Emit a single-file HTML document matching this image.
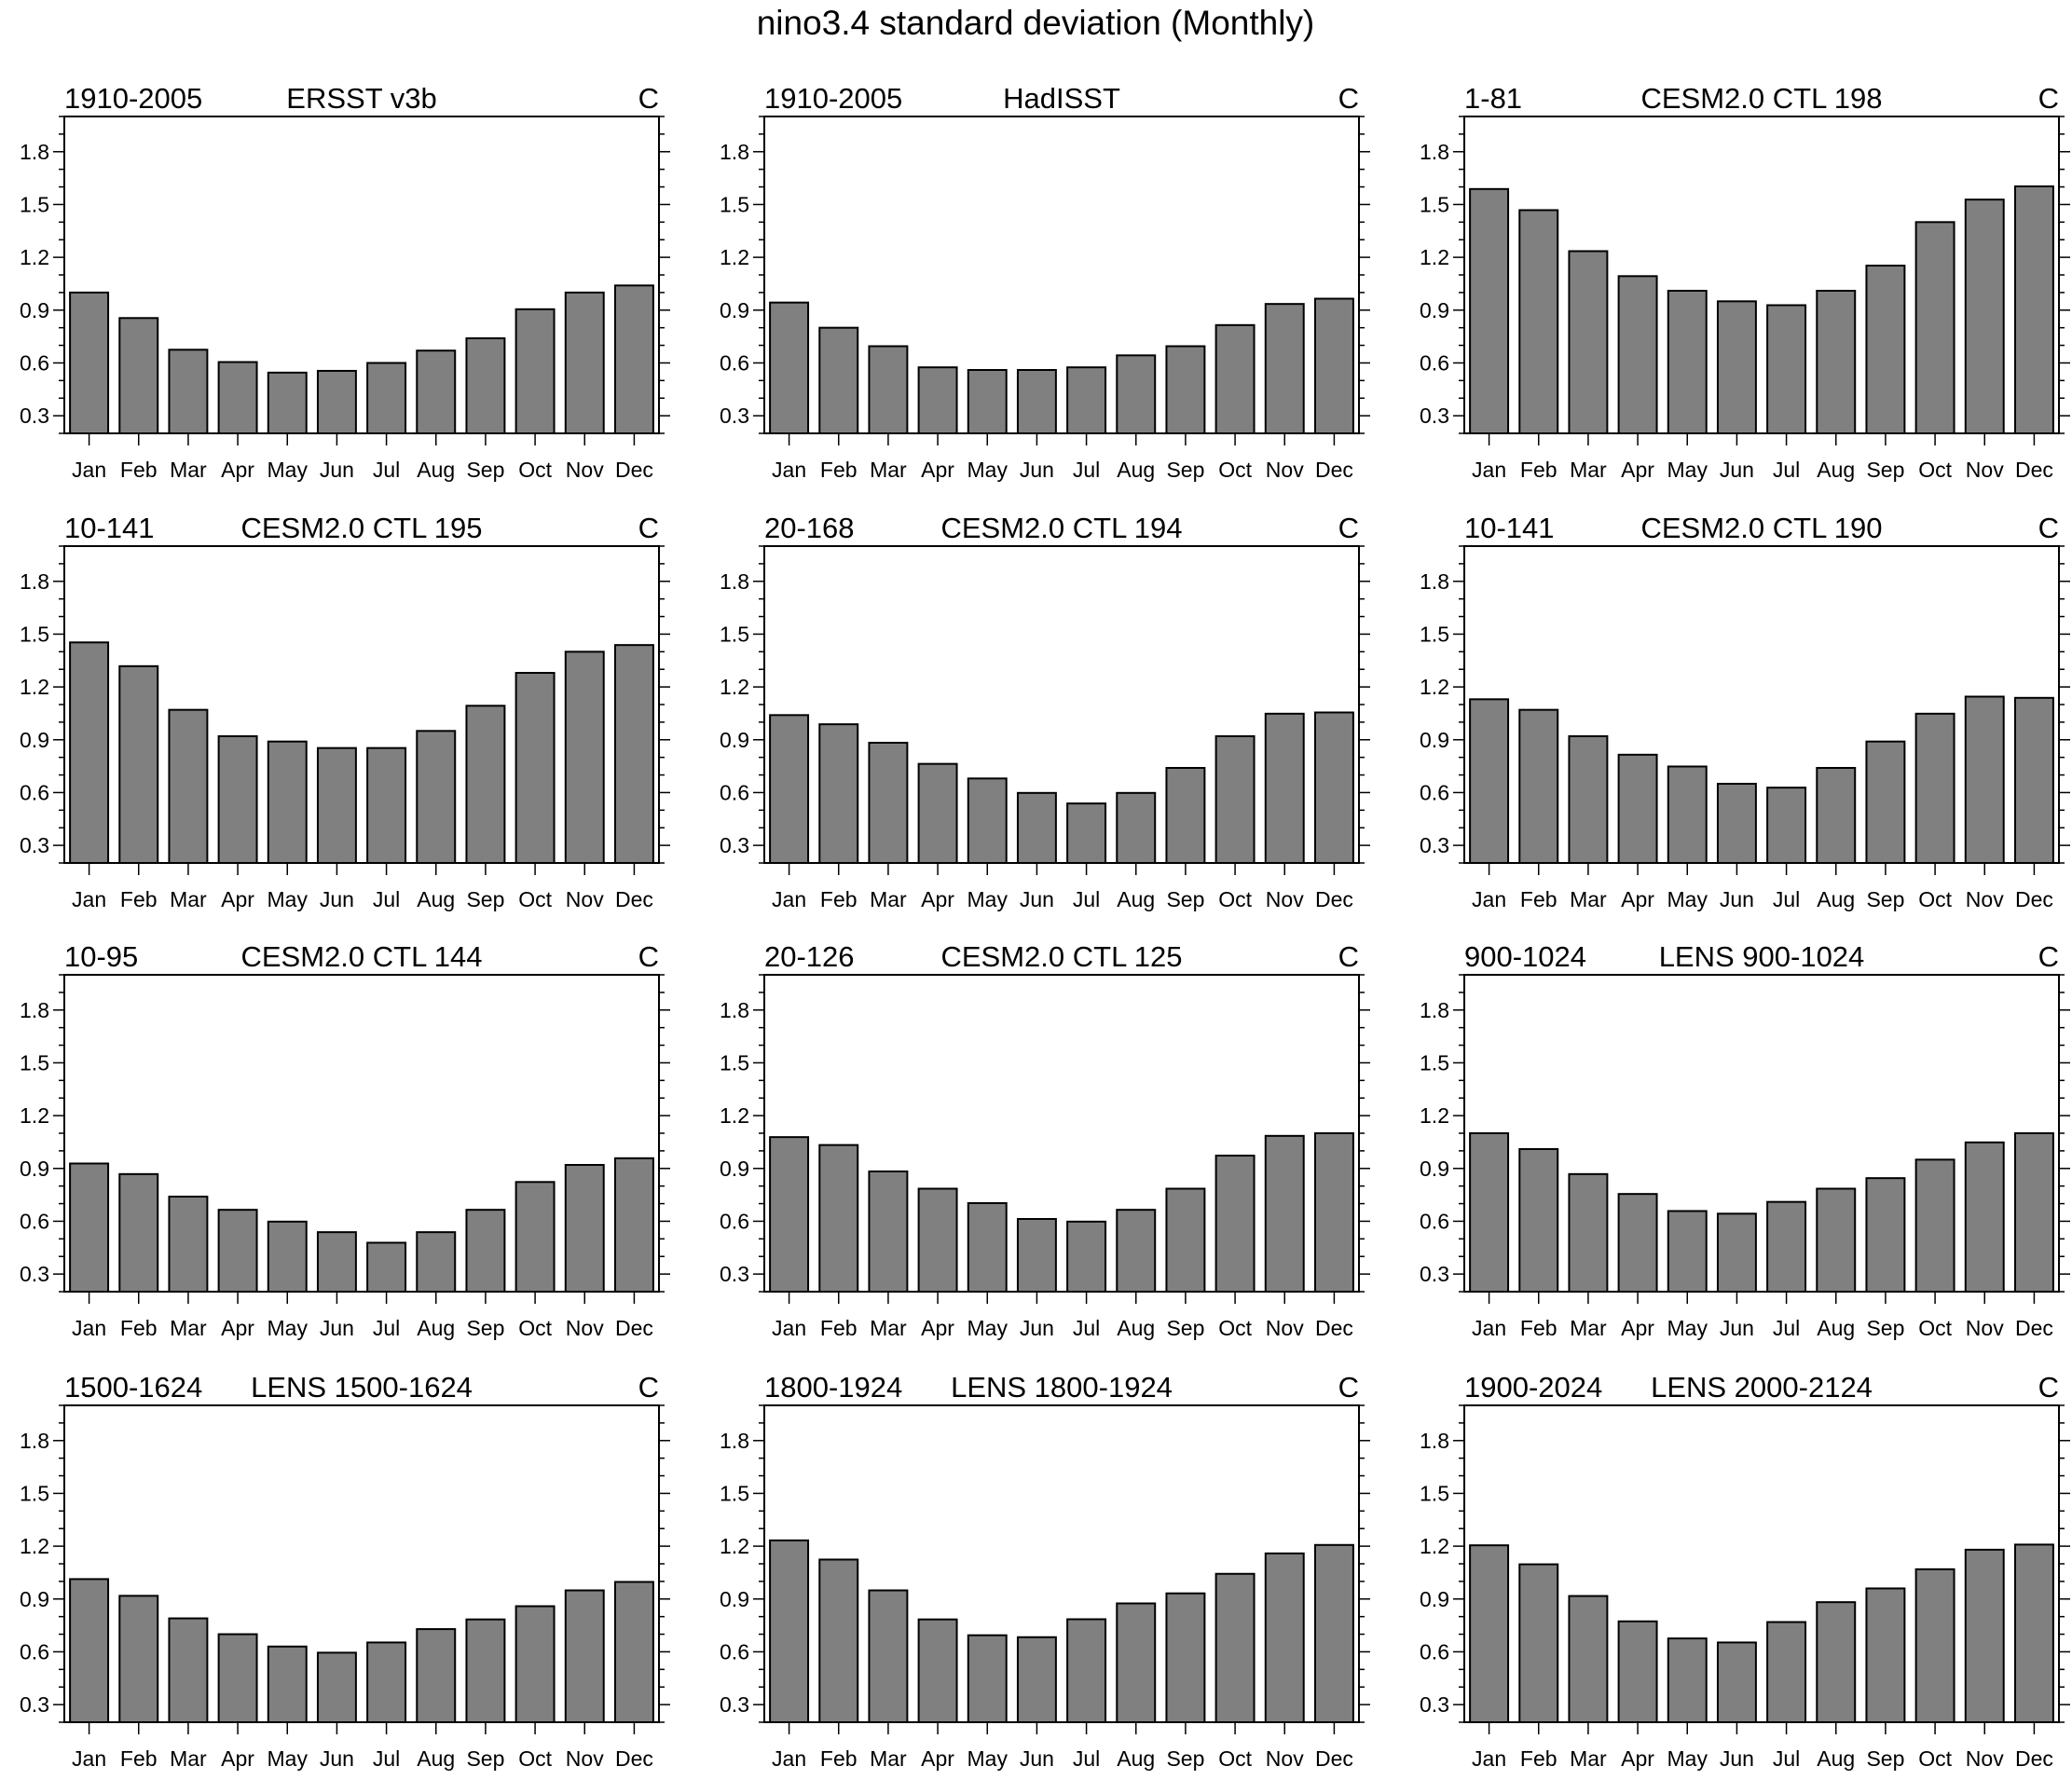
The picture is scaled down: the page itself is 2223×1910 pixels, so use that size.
<!DOCTYPE html>
<html><head><meta charset="utf-8"><style>
html,body{margin:0;padding:0;background:#fff;}
svg{display:block;font-family:"Liberation Sans",sans-serif;}
</style></head><body>
<svg id="fig" width="2223" height="1910" viewBox="0 0 2223 1910">
<text x="1111" y="37" font-size="37" text-anchor="middle">nino3.4 standard deviation (Monthly)</text>
</svg>
<script>
const months = ["Jan","Feb","Mar","Apr","May","Jun","Jul","Aug","Sep","Oct","Nov","Dec"];
const yTicks = [0.3,0.6,0.9,1.2,1.5,1.8];
const yMin = 0.2, yMax = 2.0;
const leftTitles = ["1910-2005","1910-2005","1-81","10-141","20-168","10-141","10-95","20-126","900-1024","1500-1624","1800-1924","1900-2024"];
const centerTitles = ["ERSST v3b","HadISST","CESM2.0 CTL 198","CESM2.0 CTL 195","CESM2.0 CTL 194","CESM2.0 CTL 190","CESM2.0 CTL 144","CESM2.0 CTL 125","LENS 900-1024","LENS 1500-1624","LENS 1800-1924","LENS 2000-2124"];
const ersst   = [1.00,0.855,0.675,0.605,0.545,0.555,0.60,0.67,0.74,0.905,1.00,1.04];
const hadisst = [0.943,0.80,0.695,0.575,0.56,0.56,0.575,0.643,0.695,0.815,0.935,0.965];
const ctl198  = [1.588,1.468,1.235,1.093,1.01,0.95,0.928,1.01,1.153,1.40,1.528,1.603];
const ctl195  = [1.453,1.318,1.07,0.92,0.89,0.853,0.853,0.95,1.093,1.28,1.40,1.438];
const ctl194  = [1.04,0.988,0.883,0.763,0.68,0.598,0.538,0.598,0.74,0.92,1.048,1.055];
const ctl190  = [1.13,1.07,0.92,0.815,0.748,0.65,0.628,0.74,0.89,1.048,1.145,1.138];
const ctl144  = [0.928,0.868,0.74,0.665,0.598,0.538,0.478,0.538,0.665,0.823,0.92,0.958];
const ctl125  = [1.078,1.033,0.883,0.785,0.703,0.613,0.598,0.665,0.785,0.973,1.085,1.10];
const lens900 = [1.10,1.01,0.868,0.755,0.658,0.643,0.71,0.785,0.845,0.95,1.048,1.10];
const lens1500= [1.013,0.918,0.79,0.70,0.63,0.595,0.653,0.729,0.784,0.859,0.949,0.997];
const lens1800= [1.233,1.124,0.949,0.784,0.694,0.683,0.785,0.875,0.932,1.043,1.159,1.207];
const lens2000= [1.205,1.097,0.917,0.773,0.676,0.653,0.769,0.882,0.96,1.069,1.18,1.209];
const seriesList = [ersst,hadisst,ctl198,ctl195,ctl194,ctl190,ctl144,ctl125,lens900,lens1500,lens1800,lens2000];

const NS = "http://www.w3.org/2000/svg";
const svg = document.getElementById("fig");
const colX = [69,820,1571], rowY = [125,586,1046,1508], PW = 638, PH = 340;
function mk(tag, attrs, parent){const e=document.createElementNS(NS,tag);for(const k in attrs)e.setAttribute(k,attrs[k]);(parent||svg).appendChild(e);return e;}

seriesList.forEach((vals, p) => {
  const L = colX[p%3], T = rowY[Math.floor(p/3)];
  const g = mk("g", {});
  
  
  const yS = v => T + PH - (v - yMin) / (yMax - yMin) * PH;
  const step = PW / 12;
  const xS = i => L + (i + 0.5) * step;
  vals.forEach((v, i) => {
    const bw = step * 0.77;
    const r = mk("rect", {x: xS(i) - bw/2, y: yS(v), width: bw, height: yS(yMin) - yS(v), fill: "#808080", stroke: "#000", "stroke-width": 2}, g);
    
    
  });
  const fr = mk("rect", {x: L, y: T, width: PW, height: PH, fill: "none", stroke: "#000", "stroke-width": 2}, g);
  
  
  for (let k = 2; k <= 20; k++) {
    const v = k / 10; if (v < yMin || v > yMax) continue;
    const y = yS(v);
    const major = yTicks.some(t => Math.abs(t - v) < 1e-6);
    const len = major ? 12 : 6;
    mk("line", {x1: L - len, y1: y, x2: L, y2: y, stroke: "#000", "stroke-width": 1.5}, g);
    mk("line", {x1: L + PW, y1: y, x2: L + PW + len, y2: y, stroke: "#000", "stroke-width": 1.5}, g);
  }
  yTicks.forEach(t => {
    const tx = mk("text", {x: L - 16, y: yS(t) + 8, "font-size": 23, "text-anchor": "end"}, g);
    tx.textContent = t.toFixed(1);
    
    
  });
  months.forEach((m, i) => {
    mk("line", {x1: xS(i), y1: T + PH, x2: xS(i), y2: T + PH + 13, stroke: "#000", "stroke-width": 1.5}, g);
    const tx = mk("text", {x: xS(i), y: T + PH + 47, "font-size": 23, "text-anchor": "middle"}, g);
    tx.textContent = m;
    
    
  });
  const t1 = mk("text", {x: L, y: T - 9, "font-size": 31}, g);
  t1.textContent = leftTitles[p];
  
  
  const t2 = mk("text", {x: L + PW/2, y: T - 9, "font-size": 31, "text-anchor": "middle"}, g);
  t2.textContent = centerTitles[p];
  
  
  const t3 = mk("text", {x: L + PW, y: T - 9, "font-size": 31, "text-anchor": "end"}, g);
  t3.textContent = "C";
  
  
});
</script>
</body></html>
